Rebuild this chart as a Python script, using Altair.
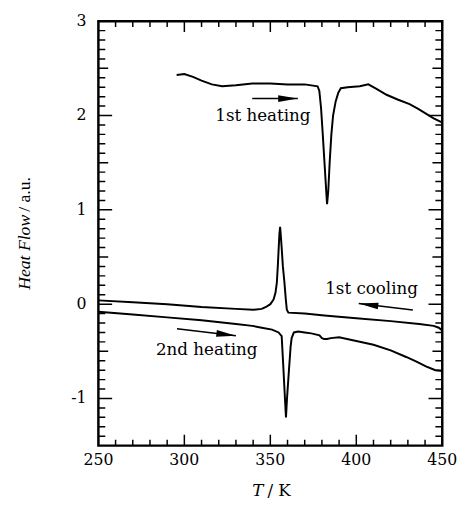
import altair as alt
import pandas as pd

# ---- data ----
heat1_T = [295.5, 300, 305, 310, 316, 322, 330, 339.5, 350, 360, 370, 377.5, 378.5, 379.5, 380.5,
           381.5, 382.5, 383, 383.7, 384.5, 385.5, 386.5, 388, 389.5, 391, 395, 402, 407, 412,
           417.6, 424, 431, 436, 440.5, 445, 449.5]
heat1_Y = [2.43, 2.44, 2.41, 2.37, 2.33, 2.31, 2.32, 2.34, 2.34, 2.33, 2.33, 2.31, 2.26, 2.08, 1.80,
           1.50, 1.20, 1.06, 1.20, 1.50, 1.80, 2.00, 2.15, 2.24, 2.29, 2.30, 2.31, 2.33, 2.28,
           2.22, 2.17, 2.12, 2.07, 2.02, 1.97, 1.93]

cool_T = [250, 270, 290, 310, 330, 340, 345, 347.5, 350, 351.9, 353, 353.8, 354.4, 354.8, 355.3,
          355.7, 356.2, 356.7, 357.3, 358.2, 359, 359.6, 360.5, 370, 381.4, 400, 420, 436.6,
          445, 448, 450]
cool_Y = [0.04, 0.02, 0.0, -0.03, -0.05, -0.06, -0.05, -0.03, 0.0, 0.05, 0.12, 0.23, 0.42, 0.57, 0.75,
          0.82, 0.70, 0.57, 0.40, 0.23, 0.05, -0.06, -0.09, -0.10, -0.12, -0.15, -0.18, -0.21,
          -0.23, -0.25, -0.28]

heat2_T = [250, 270, 290, 310, 330, 339.5, 345, 351, 354.8, 356.6, 357.6, 358.5, 359.1, 359.7,
           360.9, 361.8, 362.4, 363.7, 366.2, 370, 373.8, 378.6, 380, 381.4, 383, 385.2, 390,
           400, 410, 420, 429, 435, 440.5, 446, 450]
heat2_Y = [-0.08, -0.11, -0.14, -0.17, -0.21, -0.23, -0.25, -0.27, -0.30, -0.34, -0.68, -1.0,
           -1.20, -1.0, -0.68, -0.45, -0.36, -0.30, -0.29, -0.30, -0.31, -0.33, -0.36, -0.37,
           -0.37, -0.36, -0.35, -0.39, -0.43, -0.49, -0.56, -0.61, -0.66, -0.70, -0.71]

# annotations
ann_text = ["1st heating", "1st cooling", "2nd heating"]
ann_T = [345.7, 408.9, 313.0]
ann_Y = [1.945, 0.11, -0.54]

# arrows (start -> tip)
arr_T0 = [339.5, 432.9, 295.7]
arr_Y0 = [2.18, -0.063, -0.26]
arr_T1 = [366.0, 401.4, 330.0]
arr_Y1 = [2.18, 0.007, -0.336]
arr_angle = [90, 277.3, 97.3]

# ticks and tick labels
x_major = [250, 300, 350, 400, 450]
x_labels = ["250", "300", "350", "400", "450"]
x_minor = [t for t in range(250, 451, 10) if t % 50 != 0]
y_major = [-1, 0, 1, 2, 3]
y_labels = ["-1", "0", "1", "2", "3"]
y_half = [-0.5, 0.5, 1.5, 2.5]
y_minor = [round(k / 10, 1) for k in range(-14, 30) if k % 5 != 0]

W, H = 350, 432
FONT = "DejaVu Serif"

xs = alt.Scale(domain=[250, 450], nice=False, zero=False)
ys = alt.Scale(domain=[-1.5, 3], nice=False, zero=False)

curves = pd.concat([
    pd.DataFrame({"T": heat1_T, "Y": heat1_Y, "series": "1st heating"}),
    pd.DataFrame({"T": cool_T, "Y": cool_Y, "series": "1st cooling"}),
    pd.DataFrame({"T": heat2_T, "Y": heat2_Y, "series": "2nd heating"}),
])

lines = alt.Chart(curves).mark_line(color="black", strokeWidth=2, clip=True).encode(
    x=alt.X("T:Q", scale=xs, axis=None),
    y=alt.Y("Y:Q", scale=ys, axis=None),
    detail="series:N",
    order="T:Q",
)

layers = [lines]


def xticks(vals, size):
    out = []
    for edge in (-1.5, 3):
        out.append(alt.Chart(pd.DataFrame({"T": vals})).mark_tick(
            orient="vertical", size=size, thickness=1.5, color="black", clip=True, opacity=1
        ).encode(x=alt.X("T:Q", scale=xs, axis=None), y=alt.YDatum(edge, axis=None)))
    return out


def yticks(vals, size):
    out = []
    for edge in (250, 450):
        out.append(alt.Chart(pd.DataFrame({"Y": vals})).mark_tick(
            orient="horizontal", size=size, thickness=1.5, color="black", clip=True, opacity=1
        ).encode(y=alt.Y("Y:Q", scale=ys, axis=None), x=alt.XDatum(edge, axis=None)))
    return out


layers += xticks(x_major, 22) + xticks(x_minor, 12)
layers += yticks(y_major, 28) + yticks(y_half, 20) + yticks(y_minor, 14)

# tick labels drawn as text
xl = pd.DataFrame({"T": x_major, "lab": x_labels})
layers.append(alt.Chart(xl).mark_text(
    font=FONT, fontSize=16, align="center", baseline="top", color="black", dy=7
).encode(x=alt.X("T:Q", axis=None), y=alt.YDatum(-1.5, axis=None), text="lab:N"))
yl = pd.DataFrame({"Y": y_major, "lab": y_labels})
layers.append(alt.Chart(yl).mark_text(
    font=FONT, fontSize=16, align="right", baseline="middle", color="black", dx=-12
).encode(y=alt.Y("Y:Q", axis=None), x=alt.XDatum(250, axis=None), text="lab:N"))

ann_df = pd.DataFrame({"T": ann_T, "Y": ann_Y, "label": ann_text})
layers.append(alt.Chart(ann_df).mark_text(
    font=FONT, fontSize=17, align="center", baseline="alphabetic", color="black"
).encode(x=alt.X("T:Q", axis=None), y=alt.Y("Y:Q", axis=None), text="label:N"))

arr_df = pd.DataFrame({"T0": arr_T0, "Y0": arr_Y0, "T1": arr_T1, "Y1": arr_Y1})
layers.append(alt.Chart(arr_df).mark_rule(color="black", strokeWidth=1.5).encode(
    x=alt.X("T0:Q", axis=None), x2="T1:Q", y=alt.Y("Y0:Q", axis=None), y2="Y1:Q"))

HEAD = "M0,0L-0.34,2L0.34,2Z"
for i, a in enumerate(arr_angle):
    layers.append(alt.Chart(arr_df.iloc[[i]]).mark_point(
        shape=HEAD, size=400, angle=a, filled=True, color="black", opacity=1, strokeWidth=0
    ).encode(x=alt.X("T1:Q", axis=None), y=alt.Y("Y1:Q", axis=None)))

# axis titles with mixed italic / upright text
layers.append(alt.Chart(pd.DataFrame({"t": ["Heat Flow"]})).mark_text(
    font="Liberation Serif", fontStyle="italic", fontSize=18, angle=270, align="right",
    baseline="middle", color="black"
).encode(x=alt.value(-75), y=alt.value(197), text="t:N"))
layers.append(alt.Chart(pd.DataFrame({"t": ["/ a.u."]})).mark_text(
    font="Liberation Serif", fontSize=18, angle=270, align="left",
    baseline="middle", color="black"
).encode(x=alt.value(-75), y=alt.value(194), text="t:N"))
layers.append(alt.Chart(pd.DataFrame({"t": ["T"]})).mark_text(
    font=FONT, fontStyle="italic", fontSize=17, align="right",
    baseline="middle", color="black"
).encode(x=alt.value(168), y=alt.value(478), text="t:N"))
layers.append(alt.Chart(pd.DataFrame({"t": ["/ K"]})).mark_text(
    font=FONT, fontSize=17, align="left",
    baseline="middle", color="black"
).encode(x=alt.value(172), y=alt.value(478), text="t:N"))

chart = alt.layer(*layers).properties(
    width=W, height=H,
    autosize=alt.AutoSizeParams(type="none"),
    padding={"left": 92, "top": 9, "right": 15, "bottom": 57},
    background="white",
).configure_view(stroke="black", strokeWidth=2.5)

chart.save("out.html", embed_options={"renderer": "svg", "actions": False})
